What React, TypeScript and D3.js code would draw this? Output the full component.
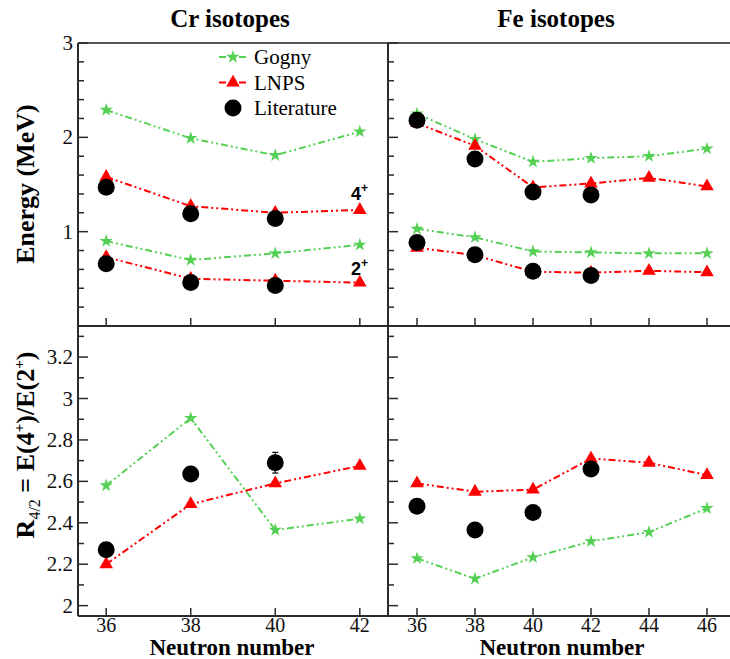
import React from 'react';
import * as d3 from 'd3';

// ---------- data ----------
const crN = [36, 38, 40, 42];
const crLitN = [36, 38, 40];
const crGogny4 = [2.29, 1.99, 1.81, 2.06];
const crLnps4 = [1.58, 1.27, 1.2, 1.23];
const crLit4 = [1.47, 1.19, 1.14];
const crGogny2 = [0.9, 0.7, 0.77, 0.86];
const crLnps2 = [0.73, 0.5, 0.48, 0.46];
const crLit2 = [0.66, 0.46, 0.43];
const crGognyR = [2.58, 2.905, 2.365, 2.42];
const crLnpsR = [2.2, 2.49, 2.59, 2.675];
const crLitR = [2.27, 2.635, 2.69];
const crLitRErr = [0, 0, 0.05];

const feN = [36, 38, 40, 42, 44, 46];
const feLitN = [36, 38, 40, 42];
const feGogny4 = [2.25, 1.98, 1.74, 1.78, 1.8, 1.88];
const feLnps4 = [2.15, 1.91, 1.47, 1.51, 1.57, 1.48];
const feLit4 = [2.18, 1.77, 1.42, 1.39];
const feGogny2 = [1.03, 0.94, 0.79, 0.78, 0.77, 0.77];
const feLnps2 = [0.83, 0.75, 0.575, 0.565, 0.585, 0.57];
const feLit2 = [0.885, 0.755, 0.58, 0.535];
const feGognyR = [2.228, 2.13, 2.233, 2.31, 2.355, 2.47];
const feLnpsR = [2.59, 2.55, 2.56, 2.71, 2.69, 2.63];
const feLitR = [2.48, 2.365, 2.45, 2.66];

const crXTicks = [36, 38, 40, 42];
const feXTicks = [36, 38, 40, 42, 44, 46];
const energyTicks = [1, 2, 3];
const ratioTicks = [2, 2.2, 2.4, 2.6, 2.8, 3, 3.2];
const legendLabels = ['Gogny', 'LNPS', 'Literature'];

// ---------- style ----------
const GREEN = '#55d055';
const RED = '#ff0000';
const AXIS = '#2a2a2a';
const SERIF = "'Liberation Serif', 'Times New Roman', serif";
const SANS = "'Liberation Sans', Arial, sans-serif";
const DASH = '7,3,2,3,2,3';

const L0 = 78, L1 = 388, R0 = 388, R1 = 736;
const T0 = 43, T1 = 326, B0 = 326, B1 = 616;

const xCr = d3.scaleLinear().domain([35.333, 42.667]).range([L0, L1]);
const xFe = d3.scaleLinear().domain([35, 47]).range([R0, R1]);
const yE = d3.scaleLinear().domain([0, 3]).range([T1, T0]);
const yR = d3.scaleLinear().domain([1.95, 3.35]).range([B1, B0]);

const starPath = d3.symbol().type(d3.symbolStar).size(55)()!;
const triPath = d3.symbol().type(d3.symbolTriangle).size(80)()!;

type Sc = d3.ScaleLinear<number, number>;

function Series({ xs, ys, x, y, kind }: { xs: number[]; ys: number[]; x: Sc; y: Sc; kind: 'g' | 'l' }) {
  const pts: [number, number][] = xs.map((n, i) => [n, ys[i]]);
  const line = d3.line<[number, number]>().x(d => x(d[0])).y(d => y(d[1]));
  const color = kind === 'g' ? GREEN : RED;
  return (
    <g>
      <path d={line(pts)!} fill="none" stroke={color} strokeWidth={2} strokeDasharray={DASH} />
      {pts.map((p, i) => (
        <path key={i} d={kind === 'g' ? starPath : triPath} transform={`translate(${x(p[0])},${y(p[1])})`} fill={color} />
      ))}
    </g>
  );
}

function Lit({ xs, ys, x, y, err }: { xs: number[]; ys: number[]; x: Sc; y: Sc; err?: number[] }) {
  return (
    <g>
      {xs.map((n, i) => {
        const e = err ? err[i] : 0;
        return (
          <g key={i}>
            {e > 0 && (
              <g stroke="#000" strokeWidth={1.2}>
                <line x1={x(n)} x2={x(n)} y1={y(ys[i] - e)} y2={y(ys[i] + e)} />
                <line x1={x(n) - 3} x2={x(n) + 3} y1={y(ys[i] - e)} y2={y(ys[i] - e)} />
                <line x1={x(n) - 3} x2={x(n) + 3} y1={y(ys[i] + e)} y2={y(ys[i] + e)} />
              </g>
            )}
            <circle cx={x(n)} cy={y(ys[i])} r={8.5} fill="#000" />
          </g>
        );
      })}
    </g>
  );
}

function Axes({ x, y, xTicks, yMajor, yMinorStep, showY, showX, yLo, yHi }: {
  x: Sc; y: Sc; xTicks: number[]; yMajor: number[]; yMinorStep: number; showY: boolean; showX: boolean; yLo: number; yHi: number;
}) {
  const [xa, xb] = x.range();
  const [ya, yb] = y.range();
  const minors: number[] = [];
  for (let v = Math.ceil(yLo / yMinorStep) * yMinorStep; v <= yHi + 1e-9; v += yMinorStep) minors.push(+v.toFixed(4));
  return (
    <g>
      {minors.map((v, i) => {
        const isMajor = yMajor.some(m => Math.abs(m - v) < 1e-6);
        return <line key={'m' + i} x1={xa} x2={xa + (isMajor ? 10 : 6)} y1={y(v)} y2={y(v)} stroke={AXIS} strokeWidth={1.5} />;
      })}
      {xTicks.map((t, i) => (
        <line key={'x' + i} x1={x(t)} x2={x(t)} y1={ya} y2={ya - 8} stroke={AXIS} strokeWidth={1.5} />
      ))}
      <line x1={xa} x2={xa} y1={ya} y2={yb} stroke={AXIS} strokeWidth={2} />
      <line x1={xa} x2={xb} y1={ya} y2={ya} stroke={AXIS} strokeWidth={2} />
      {showY && yMajor.map((t, i) => (
        <text key={'yl' + i} x={xa - 5} y={y(t) + 7} textAnchor="end" style={{ fontFamily: SERIF }} fontSize={21} fill="#111">{String(t)}</text>
      ))}
      {showX && xTicks.map((t, i) => (
        <text key={'xl' + i} x={x(t)} y={632} textAnchor="middle" style={{ fontFamily: SERIF }} fontSize={20} fill="#111">{String(t)}</text>
      ))}
    </g>
  );
}

export default function App() {
  return (
    <svg width={730} height={659} style={{ position: 'absolute', left: 0, top: 0, background: '#fff', fontFamily: SERIF }}>
      <rect width={730} height={659} fill="#fff" />
      <line x1={L0} x2={730} y1={T0} y2={T0} stroke="#555" strokeWidth={2} />

      <Axes x={xCr} y={yE} xTicks={crXTicks} yMajor={energyTicks} yMinorStep={0.2} showY showX={false} yLo={0} yHi={3} />
      <Axes x={xFe} y={yE} xTicks={feXTicks} yMajor={energyTicks} yMinorStep={0.2} showY={false} showX={false} yLo={0} yHi={3} />
      <Axes x={xCr} y={yR} xTicks={crXTicks} yMajor={ratioTicks} yMinorStep={0.1} showY showX yLo={1.95} yHi={3.35} />
      <Axes x={xFe} y={yR} xTicks={feXTicks} yMajor={ratioTicks} yMinorStep={0.1} showY={false} showX yLo={1.95} yHi={3.35} />

      <Series xs={crN} ys={crGogny4} x={xCr} y={yE} kind="g" />
      <Series xs={crN} ys={crLnps4} x={xCr} y={yE} kind="l" />
      <Series xs={crN} ys={crGogny2} x={xCr} y={yE} kind="g" />
      <Series xs={crN} ys={crLnps2} x={xCr} y={yE} kind="l" />
      <Lit xs={crLitN} ys={crLit4} x={xCr} y={yE} />
      <Lit xs={crLitN} ys={crLit2} x={xCr} y={yE} />

      <Series xs={feN} ys={feGogny4} x={xFe} y={yE} kind="g" />
      <Series xs={feN} ys={feLnps4} x={xFe} y={yE} kind="l" />
      <Series xs={feN} ys={feGogny2} x={xFe} y={yE} kind="g" />
      <Series xs={feN} ys={feLnps2} x={xFe} y={yE} kind="l" />
      <Lit xs={feLitN} ys={feLit4} x={xFe} y={yE} />
      <Lit xs={feLitN} ys={feLit2} x={xFe} y={yE} />

      <Series xs={crN} ys={crGognyR} x={xCr} y={yR} kind="g" />
      <Series xs={crN} ys={crLnpsR} x={xCr} y={yR} kind="l" />
      <Lit xs={crLitN} ys={crLitR} x={xCr} y={yR} err={crLitRErr} />
      <Series xs={feN} ys={feGognyR} x={xFe} y={yR} kind="g" />
      <Series xs={feN} ys={feLnpsR} x={xFe} y={yR} kind="l" />
      <Lit xs={feLitN} ys={feLitR} x={xFe} y={yR} />

      <text x={351} y={200} style={{ fontFamily: SANS }} fontWeight="bold" fontSize={18}>4<tspan fontSize={12} dy={-8}>+</tspan></text>
      <text x={351} y={275} style={{ fontFamily: SANS }} fontWeight="bold" fontSize={18}>2<tspan fontSize={12} dy={-8}>+</tspan></text>

      {legendLabels.map((lab, i) => {
        const yy = 57 + i * 25.5;
        return (
          <g key={lab}>
            {i < 2 && <line x1={219} x2={247} y1={yy} y2={yy} stroke={i === 0 ? GREEN : RED} strokeWidth={2} strokeDasharray={DASH} />}
            {i === 0 && <path d={starPath} transform={`translate(233,${yy})`} fill={GREEN} />}
            {i === 1 && <path d={triPath} transform={`translate(233,${yy})`} fill={RED} />}
            {i === 2 && <circle cx={233} cy={yy} r={8.5} fill="#000" />}
            <text x={254} y={yy + 7} style={{ fontFamily: SERIF }} fontSize={21}>{lab}</text>
          </g>
        );
      })}

      <text x={230} y={27} textAnchor="middle" style={{ fontFamily: SERIF }} fontWeight="bold" fontSize={25}>Cr isotopes</text>
      <text x={556} y={27} textAnchor="middle" style={{ fontFamily: SERIF }} fontWeight="bold" fontSize={25}>Fe isotopes</text>
      <text x={232} y={655} textAnchor="middle" style={{ fontFamily: SERIF }} fontWeight="bold" fontSize={23}>Neutron number</text>
      <text x={562} y={655} textAnchor="middle" style={{ fontFamily: SERIF }} fontWeight="bold" fontSize={23}>Neutron number</text>

      <text transform="translate(34,184) rotate(-90)" textAnchor="middle" style={{ fontFamily: SERIF }} fontWeight="bold" fontSize={26}>Energy (MeV)</text>
      <text transform="translate(34,445) rotate(-90)" textAnchor="middle" style={{ fontFamily: SERIF }} fontWeight="bold" fontSize={26}>
        R<tspan fontSize={16} fontWeight="normal" dy={6}>4/2</tspan><tspan dy={-6}> = E(4</tspan><tspan fontSize={15} dy={-10}>+</tspan><tspan dy={10}>)/E(2</tspan><tspan fontSize={15} dy={-10}>+</tspan><tspan dy={10}>)</tspan>
      </text>
    </svg>
  );
}
